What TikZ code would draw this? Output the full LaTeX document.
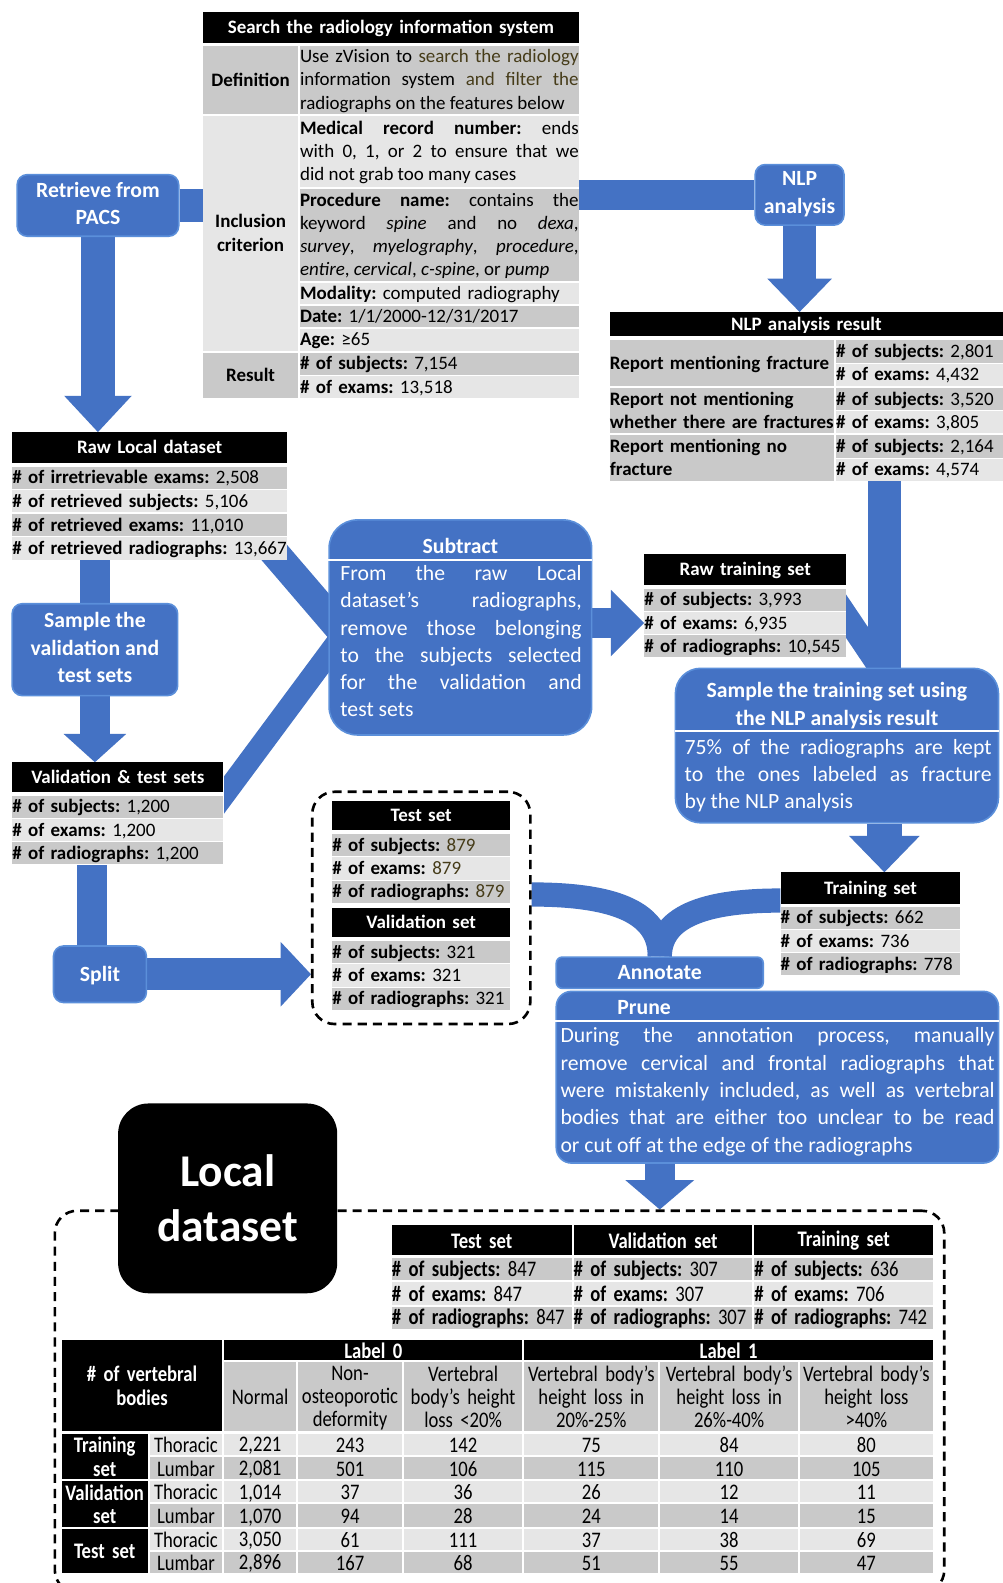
\documentclass[tikz,border=0pt]{standalone}
\usepackage{fontspec}
\setmainfont{Carlito}
\newfontfamily\narrowfont{Carlito}[FakeStretch=0.84]
\usetikzlibrary{arrows.meta,calc}
\definecolor{boxblue}{HTML}{4472C4}
\definecolor{edgeblue}{HTML}{5B8FDA}
\definecolor{rowdark}{HTML}{C9C9C9}
\definecolor{rowlight}{HTML}{E6E6E6}
\definecolor{olivetxt}{HTML}{463C19}
\pgfdeclarelayer{links}
\pgfdeclarelayer{backing}
\pgfsetlayers{links,backing,main}
\newcommand{\tabfont}{\fontsize{18.8}{23}\selectfont}
\newcommand{\ntabfont}{\narrowfont\fontsize{22}{23}\selectfont}
\newcommand{\boxfont}{\fontsize{21.5}{27}\selectfont}
\newcommand{\bigfont}{\fontsize{45}{55}\selectfont}
\newcommand{\nohyph}{\frenchspacing\hyphenpenalty=10000 \exhyphenpenalty=10000 \tolerance=9999 \emergencystretch=20pt }
\newcommand{\tstrut}{\rule[-3pt]{0pt}{18.2pt}}
\newcommand{\nstrut}{\rule[-1.6pt]{0pt}{19.2pt}}
\newcommand{\bstrut}{\rule[-4.5pt]{0pt}{22.5pt}}
\newcommand{\olv}[1]{\textcolor{olivetxt}{#1}}
% table cells: name, x, y, width, height, fill, align, text
\newcommand{\tabcell}[8]{\node[tcell, fill=#6, align=#7, text width=#4pt, minimum height=#5pt] (#1) at (#2,#3) {#8};}
\newcommand{\tabline}[8]{\node[tcell, fill=#6, align=#7, text width=#4pt, minimum height=#5pt] (#1) at (#2,#3) {\mbox{#8}};}
\newcommand{\narcell}[8]{\node[ncell, fill=#6, align=#7, text width=#4pt, minimum height=#5pt] (#1) at (#2,#3) {#8};}
\newcommand{\narline}[8]{\node[ncell, fill=#6, align=#7, text width=#4pt, minimum height=#5pt] (#1) at (#2,#3) {\mbox{#8}};}
% black header cells: name, x, y, width, height, text
\newcommand{\headcell}[6]{\node[hcell, text width=#4pt, minimum height=#5pt] (#1) at (#2,#3) {#6};}
\newcommand{\narhead}[6]{\node[nhcell, text width=#4pt, minimum height=#5pt] (#1) at (#2,#3) {#6};}
% one data row of the vertebral body table (fill and region set in \rf and \rs)
\newcommand{\bodyrow}[9]{%
  \narline{#1s}{148}{#2}{72}{#3}{\rf}{center}{\rs}
  \narline{#1a}{222}{#2}{71}{#3}{\rf}{center}{#4}
  \narline{#1b}{295}{#2}{103}{#3}{\rf}{center}{#5}
  \narline{#1c}{400}{#2}{117}{#3}{\rf}{center}{#6}
  \narline{#1d}{519}{#2}{133}{#3}{\rf}{center}{#7}
  \narline{#1e}{654}{#2}{136}{#3}{\rf}{center}{#8}
  \narline{#1f}{792}{#2}{132}{#3}{\rf}{center}{#9}}
\tikzset{
  tcell/.style={anchor=north west, inner sep=0pt, font=\tabfont\nohyph,
    execute at begin node=\tstrut, execute at end node=\tstrut},
  ncell/.style={anchor=north west, inner sep=0pt, font=\ntabfont\nohyph,
    execute at begin node=\nstrut, execute at end node=\nstrut},
  hcell/.style={tcell, fill=black, text=white, font=\tabfont\bfseries\nohyph, align=center},
  nhcell/.style={ncell, fill=black, text=white, font=\ntabfont\bfseries\nohyph, align=center},
  bluebox/.style={fill=boxblue, draw=edgeblue, line width=1.6pt, rounded corners=10pt,
    text=white, font=\boxfont\bfseries, align=center, inner sep=0pt,
    execute at begin node=\bstrut, execute at end node=\bstrut},
  boxtitle/.style={text=white, font=\boxfont\bfseries, align=center, inner sep=0pt},
  boxbody/.style={anchor=north west, text=white, font=\boxfont\nohyph, align=justify,
    inner sep=0pt, execute at begin node=\strut},
  rule/.style={white, line width=2pt},
  dashbox/.style={draw=black, line width=2.6pt, dash pattern=on 9pt off 6pt, anchor=north west, inner sep=0pt},
  link/.style={draw=boxblue, line width=#1pt},
  tipd/.style args={#1/#2}{-{Triangle[width=#1pt,length=#2pt,line width=0pt]}}
}
\begin{document}
\frenchspacing
\begin{tikzpicture}[x=1pt,y=-1pt]
\useasboundingbox (0,0) rectangle (993,1568);
\begin{pgfonlayer}{links}
  \fill[white] (0,0) rectangle (993,1568);
\end{pgfonlayer}

% ---------- radiology information system search ----------
\headcell{srch}{201}{12}{372}{30}{Search the radiology information system}
\tabline{defl}{201}{45}{94}{68}{rowdark}{center}{\textbf{Definition}}
\tabcell{defr}{297}{45}{276}{68}{rowdark}{justify}{Use zVision to \olv{search the radiology}\linebreak information system \olv{and filter the}\linebreak radiographs on the features below}
\tabcell{incl}{201}{115}{94}{232}{rowlight}{center}{\textbf{Inclusion}\\\textbf{criterion}}
\tabcell{mrn}{297}{115}{276}{70}{rowlight}{justify}{\textbf{Medical record number:} ends\linebreak with 0, 1, or 2 to ensure that we\linebreak did not grab too many cases}
\tabcell{proc}{297}{187}{276}{91}{rowdark}{justify}{\textbf{Procedure name:} contains the\linebreak keyword \textit{spine} and no \textit{dexa},\linebreak \textit{survey}, \textit{myelography}, \textit{procedure},\linebreak \textit{entire}, \textit{cervical}, \textit{c-spine}, or \textit{pump}}
\tabline{moda}{297}{280}{276}{21}{rowlight}{left}{\textbf{Modality:} computed radiography}
\tabline{date}{297}{303}{276}{21}{rowdark}{left}{\textbf{Date:} 1/1/2000-12/31/2017}
\tabline{age}{297}{326}{276}{21}{rowlight}{left}{\textbf{Age:} ≥65}
\tabline{resl}{201}{349}{94}{45}{rowdark}{center}{\textbf{Result}}
\tabline{ress}{297}{349}{276}{22}{rowdark}{left}{\textbf{\# of subjects:} 7,154}
\tabline{rese}{297}{372}{276}{22}{rowlight}{left}{\textbf{\# of exams:} 13,518}

% ---------- process boxes ----------
\node[bluebox, minimum width=160pt, minimum height=61pt] (pacs) at (97,203.5) {Retrieve from\\PACS};
\node[bluebox, minimum width=88pt, minimum height=60pt] (nlp) at (792,193) {NLP\\analysis};
\node[bluebox, minimum width=164pt, minimum height=91pt] (sampleval) at (94,643.5) {Sample the\\validation and\\test sets};
\node[bluebox, minimum width=92pt, minimum height=56pt] (split) at (99,965) {Split};

\node[bluebox, rounded corners=28pt, minimum width=260pt, minimum height=213pt] (subtract) at (456,621.5) {};
\node[boxtitle] (subtitle) at (456,540.5) {Subtract};
\draw[rule] (subtract.west |- 0,555) -- (subtract.east |- 0,555);
\node[boxbody, text width=239pt] (subbody) at (337,556) {From the raw Local\linebreak dataset’s radiographs,\linebreak remove those belonging\linebreak to the subjects selected\linebreak for the validation and\linebreak test sets};

\node[bluebox, rounded corners=25pt, minimum width=320pt, minimum height=153pt] (sampletrain) at (829,738.5) {};
\node[boxtitle] (sttitle) at (829,699) {Sample the training set using\\the NLP analysis result};
\draw[rule] (sampletrain.west |- 0,724) -- (sampletrain.east |- 0,724);
\node[boxbody, text width=304pt] (stbody) at (678,728) {75\% of the radiographs are kept\linebreak to the ones labeled as fracture\linebreak by the NLP analysis};

\node[bluebox, rounded corners=6pt, minimum width=205pt, minimum height=31pt] (annotate) at (653.5,963.5) {Annotate};
\node[bluebox, rounded corners=15pt, minimum width=438pt, minimum height=170pt] (prune) at (770,1067) {};
\node[boxtitle] (prtitle) at (638,998) {Prune};
\draw[rule] (prune.west |- 0,1011) -- (prune.east |- 0,1011);
\node[boxbody, text width=430pt] (prbody) at (555,1014) {During the annotation process, manually\linebreak remove cervical and frontal radiographs that\linebreak were mistakenly included, as well as vertebral\linebreak bodies that are either too unclear to be read\linebreak or cut off at the edge of the radiographs};

% ---------- NLP analysis result ----------
\headcell{nlphead}{604}{309}{389}{24}{NLP analysis result}
\tabline{nlpl1}{604}{337}{222}{45}{rowdark}{left}{\textbf{Report mentioning fracture}}
\tabcell{nlpl2}{604}{384}{222}{45}{rowdark}{left}{\mbox{\textbf{Report not mentioning}}\\\mbox{\textbf{whether there are fractures}}}
\tabcell{nlpl3}{604}{431}{222}{45}{rowdark}{left}{\mbox{\textbf{Report mentioning no}}\\\mbox{\textbf{fracture}}}
\tabline{nlpr1}{828}{337}{165}{22}{rowdark}{left}{\textbf{\# of subjects:} 2,801}
\tabline{nlpr2}{828}{360}{165}{22}{rowlight}{left}{\textbf{\# of exams:} 4,432}
\tabline{nlpr3}{828}{384}{165}{22}{rowdark}{left}{\textbf{\# of subjects:} 3,520}
\tabline{nlpr4}{828}{407}{165}{22}{rowlight}{left}{\textbf{\# of exams:} 3,805}
\tabline{nlpr5}{828}{431}{165}{22}{rowdark}{left}{\textbf{\# of subjects:} 2,164}
\tabline{nlpr6}{828}{454}{165}{22}{rowlight}{left}{\textbf{\# of exams:} 4,574}

% ---------- raw local dataset ----------
\headcell{rawhead}{12}{428}{272}{30}{Raw Local dataset}
\tabline{raw1}{12}{462}{272}{22}{rowdark}{left}{\textbf{\# of irretrievable exams:} 2,508}
\tabline{raw2}{12}{485}{272}{22}{rowlight}{left}{\textbf{\# of retrieved subjects:} 5,106}
\tabline{raw3}{12}{509}{272}{22}{rowdark}{left}{\textbf{\# of retrieved exams:} 11,010}
\tabline{raw4}{12}{532}{272}{22}{rowlight}{left}{\textbf{\# of retrieved radiographs:} 13,667}

% ---------- raw training set ----------
\headcell{rthead}{638}{549}{200}{30}{Raw training set}
\tabline{rt1}{638}{583}{200}{22}{rowdark}{left}{\textbf{\# of subjects:} 3,993}
\tabline{rt2}{638}{606}{200}{22}{rowlight}{left}{\textbf{\# of exams:} 6,935}
\tabline{rt3}{638}{629}{200}{22}{rowdark}{left}{\textbf{\# of radiographs:} 10,545}

% ---------- validation & test sets ----------
\headcell{vthead}{12}{755}{209}{29}{Validation \& test sets}
\tabline{vt1}{12}{788}{209}{22}{rowdark}{left}{\textbf{\# of subjects:} 1,200}
\tabline{vt2}{12}{811}{209}{22}{rowlight}{left}{\textbf{\# of exams:} 1,200}
\tabline{vt3}{12}{834}{209}{22}{rowdark}{left}{\textbf{\# of radiographs:} 1,200}

% ---------- split result ----------
\node[dashbox, rounded corners=22pt, minimum width=216pt, minimum height=230pt] (tvbox) at (308,783) {};
\headcell{tshead}{329}{793}{176}{29}{Test set}
\tabline{ts1}{329}{826}{176}{22}{rowdark}{left}{\textbf{\# of subjects:} \olv{879}}
\tabline{ts2}{329}{849}{176}{22}{rowlight}{left}{\textbf{\# of exams:} \olv{879}}
\tabline{ts3}{329}{872}{176}{22}{rowdark}{left}{\textbf{\# of radiographs:} \olv{879}}
\headcell{vshead}{329}{899}{176}{29}{Validation set}
\tabline{vs1}{329}{932}{176}{22}{rowdark}{left}{\textbf{\# of subjects:} 321}
\tabline{vs2}{329}{955}{176}{22}{rowlight}{left}{\textbf{\# of exams:} 321}
\tabline{vs3}{329}{978}{176}{22}{rowdark}{left}{\textbf{\# of radiographs:} 321}

% ---------- training set ----------
\headcell{trhead}{773}{864}{178}{31}{Training set}
\tabline{tr1}{773}{898}{178}{22}{rowdark}{left}{\textbf{\# of subjects:} 662}
\tabline{tr2}{773}{921}{178}{22}{rowlight}{left}{\textbf{\# of exams:} 736}
\tabline{tr3}{773}{944}{178}{22}{rowdark}{left}{\textbf{\# of radiographs:} 778}

% ---------- final local dataset ----------
\node[dashbox, rounded corners=22pt, minimum width=881pt, minimum height=378pt] (bigbox) at (53,1198) {};
\node[fill=black, rounded corners=30pt, minimum width=217pt, minimum height=188pt, text=white,
  font=\bigfont\bfseries, align=center, inner sep=0pt] (localds) at (225.5,1187) {Local\\dataset};

\narhead{bt}{388}{1213}{178}{30}{Test set}
\narhead{bv}{568}{1213}{177}{30}{Validation set}
\narhead{btr}{747}{1213}{177}{30}{Training set}
\narline{bt1}{388}{1246}{178}{22}{rowdark}{left}{\textbf{\# of subjects:} 847}
\narline{bt2}{388}{1270}{178}{22}{rowlight}{left}{\textbf{\# of exams:} 847}
\narline{bt3}{388}{1294}{178}{22}{rowdark}{left}{\textbf{\# of radiographs:} 847}
\narline{bv1}{568}{1246}{177}{22}{rowdark}{left}{\textbf{\# of subjects:} 307}
\narline{bv2}{568}{1270}{177}{22}{rowlight}{left}{\textbf{\# of exams:} 307}
\narline{bv3}{568}{1294}{177}{22}{rowdark}{left}{\textbf{\# of radiographs:} 307}
\narline{btr1}{747}{1246}{177}{22}{rowdark}{left}{\textbf{\# of subjects:} 636}
\narline{btr2}{747}{1270}{177}{22}{rowlight}{left}{\textbf{\# of exams:} 706}
\narline{btr3}{747}{1294}{177}{22}{rowdark}{left}{\textbf{\# of radiographs:} 742}

\narhead{vb}{61}{1327}{159}{90}{\# of vertebral\\bodies}
\narhead{lab0}{222}{1327}{295}{20}{Label 0}
\narhead{lab1}{519}{1327}{405}{20}{Label 1}
\narline{ch1}{222}{1349}{71}{68}{rowdark}{center}{Normal}
\narcell{ch2}{295}{1349}{103}{68}{rowdark}{center}{Non-\\osteoporotic\\deformity}
\narcell{ch3}{400}{1349}{117}{68}{rowdark}{center}{Vertebral\\body’s height\\loss <20\%}
\narcell{ch4}{519}{1349}{133}{68}{rowdark}{center}{Vertebral body’s\\height loss in\\20\%-25\%}
\narcell{ch5}{654}{1349}{136}{68}{rowdark}{center}{Vertebral body’s\\height loss in\\26\%-40\%}
\narcell{ch6}{792}{1349}{132}{68}{rowdark}{center}{Vertebral body’s\\height loss\\>40\%}
\narhead{gtr}{61}{1420}{85}{45}{Training\\set}
\narhead{gva}{61}{1467}{85}{45}{Validation\\set}
\narhead{gte}{61}{1514}{85}{44}{Test set}
\def\rf{rowlight}\def\rs{Thoracic}
\bodyrow{trt}{1420}{21}{2,221}{243}{142}{75}{84}{80}
\bodyrow{vat}{1467}{21}{1,014}{37}{36}{26}{12}{11}
\bodyrow{tet}{1514}{21}{3,050}{61}{111}{37}{38}{69}
\def\rf{rowdark}\def\rs{Lumbar}
\bodyrow{trl}{1443}{22}{2,081}{501}{106}{115}{110}{105}
\bodyrow{val}{1490}{22}{1,070}{94}{28}{24}{14}{15}
\bodyrow{tel}{1537}{21}{2,896}{167}{68}{51}{55}{47}

% ---------- white backing behind tables crossed by connectors ----------
\begin{pgfonlayer}{backing}
  \fill[white] (rawhead.north west) rectangle (raw4.south east);
  \fill[white] (vthead.north west) rectangle (vt3.south east);
  \fill[white] (rthead.north west) rectangle (rt3.south east);
\end{pgfonlayer}

% ---------- connectors ----------
\begin{pgfonlayer}{links}
  \draw[link=32] (pacs.east) -- (pacs.east -| incl.west);
  \draw[link=30] (mrn.east |- nlp.west) -- (nlp.west);
  \draw[link=33, tipd=67/36] (pacs.south) -- (pacs.south |- rawhead.north);
  \draw[link=32, tipd=64/33] (nlp.south) -- (nlp.south |- nlphead.north);
  \draw[link=30] (sampleval.north |- raw4.south) -- (sampleval.north);
  \draw[link=30, tipd=62/28] (sampleval.south) -- (sampleval.south |- vthead.north);
  \draw[link=30] ([xshift=-8pt]split.north |- vt3.south) -- ([xshift=-8pt]split.north);
  \draw[link=32, tipd=64/30] (split.east) -- (split.east -| tvbox.west);
  \coordinate (vup) at (262,536);
  \coordinate (vlow) at (200,817);
  \draw[link=29] (vup) -- ([shift={(24,16.1)}]subtract.west);
  \draw[link=22] (vlow) -- ([shift={(24,-5.7)}]subtract.west);
  \draw[link=30, tipd=66/33] (subtract.east |- rt2.west) -- (rt2.west);
  \coordinate (nlpx) at (876,0);
  \draw[link=32] (nlpr6.south -| nlpx) -- (sampletrain.north -| nlpx);
  \coordinate (rtdiag) at (825,591);
  \draw[link=24] (rtdiag) -- ([shift={(53,14.5)}]sampletrain.north);
  \draw[link=34, tipd=70/36] (sampletrain.south -| nlpx) -- (nlpx |- trhead.north);
  \draw[link=24] (tvbox.east |- 0,886) .. controls (600,886) and (654,900) .. (annotate.north);
  \draw[link=24] (trhead.west |- 0,892) .. controls (705,892) and (654,905) .. (annotate.north);
  \draw[link=30, tipd=68/29] (annotate.south |- prune.south) -- (annotate.south |- bigbox.north);
\end{pgfonlayer}
\end{tikzpicture}
\end{document}
